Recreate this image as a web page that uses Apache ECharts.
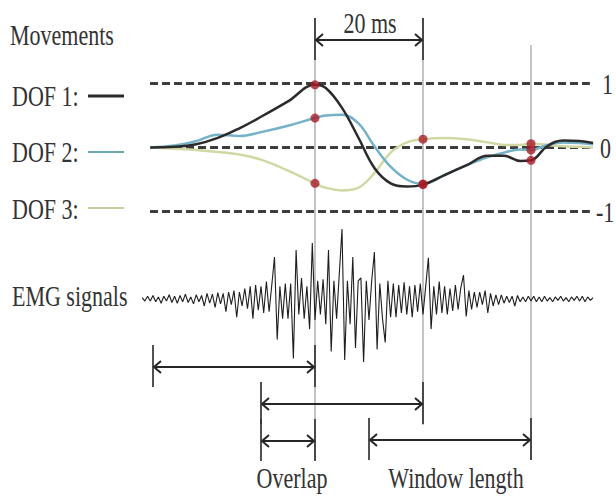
<!DOCTYPE html>
<html><head><meta charset="utf-8">
<script src="https://cdn.jsdelivr.net/npm/echarts@6/dist/echarts.min.js"></script>
<style>html,body{margin:0;padding:0;background:#fff}#c{width:616px;height:498px}</style>
</head><body><div id="c"></div>
<script>
// ---------------- data ----------------
const curveTimes = [-0.5,4,8,12,16,20,25,30,32,35,38,41,44,47,50,54,58,62,65,68,70,73,76,79,81.5];
const dof1 = [0,0.01,0.05,0.15,0.3,0.48,0.72,0.98,0.93,0.62,0.16,-0.32,-0.56,-0.61,-0.58,-0.43,-0.28,-0.13,-0.13,-0.21,-0.2,0.02,0.11,0.1,0.07];
const dof2 = [0,0.03,0.1,0.2,0.18,0.24,0.34,0.46,0.5,0.51,0.38,0.02,-0.3,-0.5,-0.57,-0.43,-0.28,-0.15,-0.08,-0.03,-0.04,0.04,0.08,0.07,0.05];
const dof3 = [0,-0.02,-0.04,-0.07,-0.11,-0.19,-0.36,-0.56,-0.63,-0.67,-0.63,-0.4,-0.08,0.08,0.13,0.15,0.13,0.08,0.04,0.04,0.06,0.04,0.02,0.01,0];
const dofNames = ['DOF 1:', 'DOF 2:', 'DOF 3:'];
const levels = [1, 0, -1];
const levelLabels = ['1', '0', '-1'];
const windowStarts = [0, 20, 40];   // ms
const windowLength = 30;            // ms
const incrementLabel = '20 ms';
const emgStart = -2, emgStep = 0.5; // ms
const emgValues = [
 0.02,-0.03,0.04,-0.03,0.05,-0.04,0.03,-0.06,0.04,-0.03,0.06,-0.05,0.04,-0.06,0.05,-0.04,0.07,-0.05,0.03,-0.07,0.06,-0.04,0.05,-0.1,0.08,-0.06,0.07,-0.12,0.09,-0.07,0.08,-0.18,
 0.1,-0.08,0.12,-0.26,0.1,-0.1,0.15,-0.14,0.18,-0.28,0.2,-0.16,
 0.18,-0.2,0.25,-0.18,0.2,0.6,-0.58,0.18,-0.28,0.22,
 -0.28,0.22,-0.85,0.7,-0.22,0.3,-0.28,0.18,-0.43,0.8,
 -0.3,0.26,-0.22,0.28,-0.36,0.7,-0.75,0.26,-0.28,0.36,
 1.0,-0.87,0.26,-0.36,0.6,-0.7,0.26,0.3,-0.9,0.26,
 -0.3,0.26,0.67,-0.72,0.22,-0.28,-0.62,0.26,-0.26,0.22,
 -0.26,0.2,-0.2,0.24,-0.22,0.18,-0.26,0.2,-0.18,0.22,
 -0.22,0.18,0.59,-0.43,0.18,-0.22,0.25,-0.2,0.18,-0.22,
 0.15,-0.17,0.2,-0.15,0.16,0.34,-0.25,0.12,-0.15,0.1,
 -0.12,0.1,-0.08,0.12,-0.2,0.08,-0.1,0.06,-0.08,0.06,
 -0.06,0.04,-0.05,0.04,-0.1,0.05,-0.04,0.03,-0.04,0.04,-0.03,0.04,-0.04,0.03,-0.04,0.04,-0.03,0.02,-0.04,0.03,-0.02,0.04,-0.03,0.02,-0.04,0.03,-0.02,0.04,-0.03,0.04,-0.04,0.03,-0.02,0.02
];

// ---------------- layout / style ----------------
const FONT = '22px "Liberation Serif", "Times New Roman", serif';
const TXT = '#333';
const SY = 1.38;
const dofColors = ['#2b2b2b', '#74b2c8', '#d2d8a4'];
const X_MIN = -28, X_MAX = 85;
const gridX = {left: 1.8, right: 4};
const rows = {bracket: 40, win: [367, 404, 440], overlap: 441};
const guideExtent = [[18, 460], [18, 425], [45, 460]];
const refLineSpan = [-0.55, 80.9];

const windowEnds = windowStarts.map(s => s + windowLength);
const dofs = [dof1, dof2, dof3];
const dots = [];
dofs.forEach(arr => windowEnds.forEach(t => {
  const i = curveTimes.indexOf(t);
  if (i >= 0) dots.push([t, arr[i]]);
}));
const emgData = emgValues.map((v, i) => [emgStart + i * emgStep, v]);

const arrows = [
  [windowEnds[0], windowEnds[1], rows.bracket],
  [windowStarts[0], windowEnds[0], rows.win[0]],
  [windowStarts[1], windowEnds[1], rows.win[1]],
  [windowStarts[1], windowEnds[0], rows.overlap],
  [windowStarts[2], windowEnds[2], rows.win[2]]
];
const guides = windowEnds.map((t, i) => [t, guideExtent[i][0], guideExtent[i][1]]);

function renderArrow(params, api) {
  const p1 = api.coord([api.value(0), api.value(2)]);
  const p2 = api.coord([api.value(1), api.value(2)]);
  const w = 8, h = 6, up = 22, dn = 20;
  const st = {stroke: '#262626', lineWidth: 2, fill: null};
  const tk = {stroke: '#333', lineWidth: 1.7};
  return {type: 'group', children: [
    {type: 'line', shape: {x1: p1[0], y1: p1[1], x2: p2[0], y2: p2[1]}, style: st},
    {type: 'polyline', shape: {points: [[p1[0] + w, p1[1] - h], [p1[0] + 1, p1[1]], [p1[0] + w, p1[1] + h]]}, style: st},
    {type: 'polyline', shape: {points: [[p2[0] - w, p2[1] - h], [p2[0] - 1, p2[1]], [p2[0] - w, p2[1] + h]]}, style: st},
    {type: 'line', shape: {x1: p1[0], y1: p1[1] - up, x2: p1[0], y2: p1[1] + dn}, style: tk},
    {type: 'line', shape: {x1: p2[0], y1: p2[1] - up, x2: p2[0], y2: p2[1] + dn}, style: tk}
  ]};
}
function renderGuide(params, api) {
  const a = api.coord([api.value(0), api.value(1)]);
  const b = api.coord([api.value(0), api.value(2)]);
  return {type: 'line', shape: {x1: a[0], y1: a[1], x2: b[0], y2: b[1]}, style: {stroke: '#9c9c9c', lineWidth: 1.2}};
}

function txt(text, x, y, align) {
  return {type: 'text', x: x, y: y, scaleY: SY,
    style: {text: text, font: FONT, fill: TXT, align: align || 'left', textAlign: align || 'left',
      verticalAlign: 'middle', textVerticalAlign: 'middle'}};
}

const graphics = [
  txt('Movements', 10, 35),
  txt(dofNames[0], 12, 96),
  txt(dofNames[1], 12, 152),
  txt(dofNames[2], 12, 209),
  txt('EMG signals', 12, 296),
  txt(incrementLabel, 370, 23, 'center'),
  txt('Overlap', 292, 478, 'center'),
  txt('Window length', 456, 478, 'center'),
  txt(levelLabels[0], 602, 84),
  txt(levelLabels[1], 600, 148),
  txt(levelLabels[2], 596, 212),
  {type: 'line', shape: {x1: 88, y1: 96, x2: 124, y2: 96}, style: {stroke: dofColors[0], lineWidth: 3}},
  {type: 'line', shape: {x1: 88, y1: 152, x2: 124, y2: 152}, style: {stroke: '#6aa8b0', lineWidth: 2}},
  {type: 'line', shape: {x1: 88, y1: 208, x2: 124, y2: 208}, style: {stroke: '#c8cc9c', lineWidth: 2}}
];

const xAxisBase = {type: 'value', min: X_MIN, max: X_MAX, show: false};
const option = {
  animation: false,
  backgroundColor: '#fff',
  grid: [
    Object.assign({top: 83.5, bottom: 286.5}, gridX),
    Object.assign({top: 229, bottom: 129}, gridX),
    Object.assign({top: 0, bottom: 0}, gridX)
  ],
  xAxis: [0, 1, 2].map(i => Object.assign({gridIndex: i}, xAxisBase)),
  yAxis: [
    {gridIndex: 0, type: 'value', min: -1, max: 1, show: false},
    {gridIndex: 1, type: 'value', min: -1, max: 1, show: false},
    {gridIndex: 2, type: 'value', min: 0, max: 498, inverse: true, show: false}
  ],
  graphic: graphics,
  series: [
    {type: 'custom', xAxisIndex: 2, yAxisIndex: 2, renderItem: renderGuide, data: guides, z: 1, silent: true},
    ...levels.map(v => ({
      type: 'line', xAxisIndex: 0, yAxisIndex: 0, data: [[refLineSpan[0], v], [refLineSpan[1], v]],
      symbol: 'none', z: 2, lineStyle: {color: '#3c3c3c', width: 3, type: [8, 4]}
    })),
    ...dofs.map((arr, k) => ({
      type: 'line', name: dofNames[k], xAxisIndex: 0, yAxisIndex: 0,
      data: curveTimes.map((t, i) => [t, arr[i]]), smooth: 0.4, symbol: 'none', z: 5 - k,
      lineStyle: {color: dofColors[k], width: 2.5}
    })),
    {type: 'scatter', xAxisIndex: 0, yAxisIndex: 0, data: dots, symbolSize: 9, z: 10,
      itemStyle: {color: '#a81c28'}},
    {type: 'line', xAxisIndex: 1, yAxisIndex: 1, data: emgData, symbol: 'none', z: 3,
      lineStyle: {color: '#1e1e1e', width: 1.1}},
    {type: 'custom', xAxisIndex: 2, yAxisIndex: 2, renderItem: renderArrow, data: arrows, z: 6, silent: true}
  ]
};
const chart = echarts.init(document.getElementById('c'), null, {renderer: 'svg'});
chart.setOption(option);
</script></body></html>
